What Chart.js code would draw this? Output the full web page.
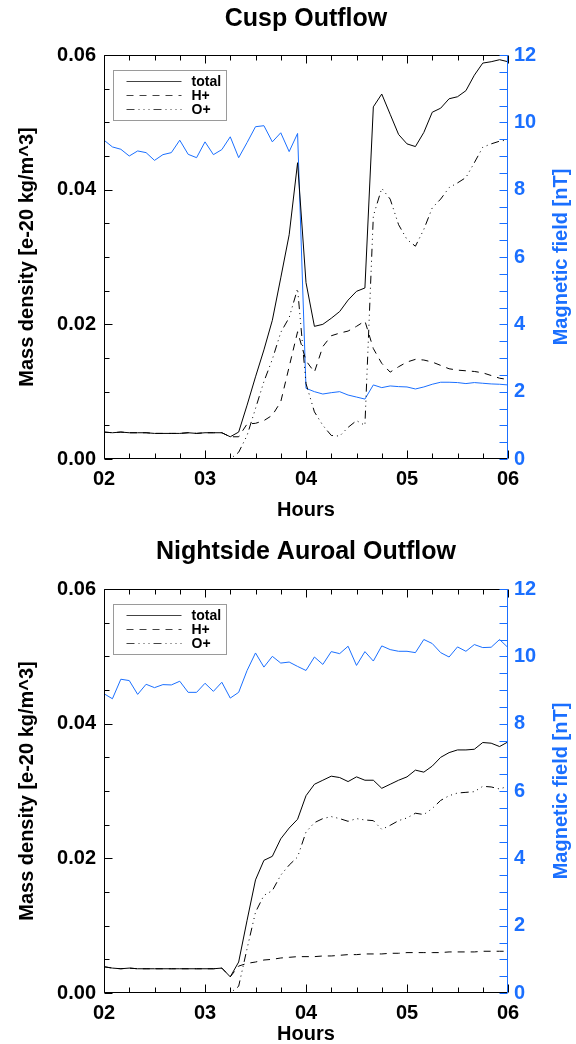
<!DOCTYPE html>
<html>
<head>
<meta charset="utf-8">
<script src="https://cdn.jsdelivr.net/npm/chart.js@4.4.1/dist/chart.umd.min.js"></script>
<style>
body { margin: 0; background: #fff; }
canvas { display: block; }
</style>
</head>
<body>
<canvas id="cusp" width="576" height="522"></canvas>
<canvas id="night" width="576" height="522"></canvas>
<script>
// time axis: minutes after 02:00, one sample every 5 minutes
const minutes = [0, 5, 10, 15, 20, 25, 30, 35, 40, 45, 50, 55,
    60, 65, 70, 75, 80, 85, 90, 95, 100, 105, 110, 115,
    120, 125, 130, 135, 140, 145, 150, 155, 160, 165, 170, 175,
    180, 185, 190, 195, 200, 205, 210, 215, 220, 225, 230, 235, 240];
const hourLabels = ["02", "03", "04", "05", "06"];

// Cusp outflow
const cuspTotal = [0.0040, 0.0039, 0.0040, 0.0039, 0.0039, 0.0039, 0.0038, 0.0038, 0.0038, 0.0038, 0.0039, 0.0038, 0.0039, 0.0039, 0.0039,
    0.0033, 0.0040, 0.0080, 0.0122, 0.0162, 0.0206, 0.0269, 0.0333, 0.0440, 0.0262,
    0.0197, 0.0200, 0.0209, 0.0219, 0.0236, 0.0249, 0.0254, 0.0523, 0.0542, 0.0512,
    0.0482, 0.0468, 0.0464, 0.0485, 0.0515, 0.0521, 0.0535, 0.0538, 0.0547, 0.0570,
    0.0588, 0.0590, 0.0593, 0.0590];
const cuspH = [0.0040, 0.0039, 0.0040, 0.0039, 0.0039, 0.0039, 0.0038, 0.0038, 0.0038, 0.0038, 0.0039, 0.0038, 0.0039, 0.0039, 0.0039,
    0.0033, 0.0033, 0.0052, 0.0053, 0.0057, 0.0065, 0.0085, 0.0137, 0.0189, 0.0146,
    0.0129, 0.0167, 0.0183, 0.0187, 0.0190, 0.0197, 0.0205, 0.0164, 0.0142, 0.0129,
    0.0137, 0.0144, 0.0148, 0.0147, 0.0144, 0.0139, 0.0134, 0.0132, 0.0131, 0.0130,
    0.0128, 0.0124, 0.0120, 0.0118];
const cuspO = [0, 0, 0, 0, 0, 0, 0, 0, 0, 0, 0, 0, 0, 0, 0,
    0.0000, 0.0010, 0.0035, 0.0075, 0.0115, 0.0148, 0.0188, 0.0210, 0.0253, 0.0112,
    0.0070, 0.0050, 0.0035, 0.0034, 0.0047, 0.0057, 0.0050, 0.0361, 0.0402, 0.0386,
    0.0348, 0.0326, 0.0316, 0.0341, 0.0373, 0.0386, 0.0403, 0.0410, 0.0418, 0.0440,
    0.0463, 0.0468, 0.0472, 0.0474];
const cuspB = [9.47, 9.27, 9.20, 9.00, 9.15, 9.10, 8.87, 9.04, 9.10, 9.47, 9.05, 8.95,
    9.42, 9.04, 9.19, 9.57, 8.95, 9.40, 9.87, 9.90, 9.42, 9.69, 9.13, 9.67,
    2.10, 2.00, 1.93, 1.97, 2.00, 1.90, 1.84, 1.78, 2.20, 2.12, 2.17, 2.15,
    2.14, 2.08, 2.14, 2.22, 2.28, 2.28, 2.27, 2.24, 2.27, 2.25, 2.23, 2.22, 2.20];

// Nightside auroral outflow
const nightTotal = [0.0039, 0.0037, 0.0036, 0.0037, 0.0036, 0.0036, 0.0036, 0.0036, 0.0036, 0.0036, 0.0036, 0.0036, 0.0036, 0.0036, 0.0037,
    0.0024, 0.0046, 0.0108, 0.0168, 0.0197, 0.0203, 0.0229, 0.0245, 0.0258, 0.0293,
    0.0310, 0.0316, 0.0322, 0.0320, 0.0314, 0.0321, 0.0316, 0.0316, 0.0304, 0.0310,
    0.0316, 0.0321, 0.0331, 0.0328, 0.0337, 0.0350, 0.0357, 0.0361, 0.0361, 0.0362,
    0.0372, 0.0371, 0.0366, 0.0373];
const nightH = [0.0039, 0.0037, 0.0036, 0.0037, 0.0036, 0.0036, 0.0036, 0.0036, 0.0036, 0.0036, 0.0036, 0.0036, 0.0036, 0.0036, 0.0037,
    0.0024, 0.0040, 0.0044, 0.0046, 0.0049, 0.0050, 0.0052, 0.0053, 0.0054, 0.0054,
    0.0054, 0.0055, 0.0055, 0.0056, 0.0057, 0.0057, 0.0058, 0.0058, 0.0058, 0.0059,
    0.0059, 0.0060, 0.0060, 0.0060, 0.0060, 0.0060, 0.0061, 0.0061, 0.0061, 0.0061,
    0.0062, 0.0062, 0.0062, 0.0062];
const nightO = [0, 0, 0, 0, 0, 0, 0, 0, 0, 0, 0, 0, 0, 0, 0,
    0.0000, 0.0010, 0.0066, 0.0120, 0.0145, 0.0152, 0.0175, 0.0190, 0.0202, 0.0239,
    0.0253, 0.0259, 0.0262, 0.0259, 0.0255, 0.0259, 0.0257, 0.0256, 0.0243, 0.0249,
    0.0256, 0.0260, 0.0267, 0.0265, 0.0274, 0.0286, 0.0293, 0.0297, 0.0298, 0.0299,
    0.0307, 0.0306, 0.0303, 0.0307];
const nightB = [8.89, 8.74, 9.32, 9.28, 8.87, 9.17, 9.07, 9.16, 9.15, 9.26,
    8.93, 8.93, 9.20, 8.96, 9.23, 8.76, 8.93, 9.58, 10.10, 9.68,
    10.00, 9.80, 9.83, 9.70, 9.58, 9.98, 9.76, 10.14, 10.08, 10.30,
    9.73, 10.14, 9.86, 10.31, 10.20, 10.15, 10.15, 10.11, 10.50, 10.38,
    10.11, 9.98, 10.28, 10.15, 10.35, 10.26, 10.27, 10.50, 10.26];

const black = "#000000";
const blue = "#1a6fff";
const FONT = "'Liberation Sans', Arial, Helvetica, sans-serif";
Chart.defaults.font.family = FONT;

// IDL style box: frame, inward ticks, legend and titles
const deco = {
    id: "deco",
    afterDatasetsDraw(chart, args, opts) {
        const ctx = chart.ctx;
        const a = chart.chartArea;
        const x = chart.scales.x, y = chart.scales.y, yB = chart.scales.yB;
        const L = Math.round(a.left) + 0.5, R = Math.round(a.right) - 0.5;
        const T = Math.round(a.top) + 0.5, B = Math.round(a.bottom) - 0.5;
        ctx.save();
        ctx.lineWidth = 1;
        ctx.setLineDash([]);

        ctx.strokeStyle = black;
        ctx.beginPath();
        ctx.moveTo(R, T); ctx.lineTo(L, T); ctx.lineTo(L, B); ctx.lineTo(R, B);
        for (let m = 0; m <= 240; m += 15) {
            const px = Math.round(x.getPixelForValue(m)) + 0.5;
            const len = m % 60 === 0 ? 8 : 5;
            ctx.moveTo(px, B); ctx.lineTo(px, B - len);
            ctx.moveTo(px, T); ctx.lineTo(px, T + len);
        }
        for (let i = 0; i <= 12; i++) {
            const py = Math.round(y.getPixelForValue(i * 0.005)) + 0.5;
            const len = i % 4 === 0 ? 8 : 5;
            ctx.moveTo(L, py); ctx.lineTo(L + len, py);
        }
        ctx.stroke();

        ctx.strokeStyle = blue;
        ctx.beginPath();
        ctx.moveTo(R, T - 0.5); ctx.lineTo(R, B + 0.5);
        for (let i = 0; i <= 24; i++) {
            const py = Math.round(yB.getPixelForValue(i * 0.5)) + 0.5;
            ctx.moveTo(R, py); ctx.lineTo(R - 8, py);
        }
        ctx.stroke();

        // legend
        const lx = L + 9, ly = T + 15;
        ctx.strokeStyle = "#9a9a9a";
        ctx.strokeRect(lx, ly, 113, 50);
        ctx.font = "bold 14px " + FONT;
        ctx.textBaseline = "middle";
        ctx.textAlign = "left";
        chart.data.datasets.filter(d => d.yAxisID === "y").forEach((d, i) => {
            const ry = Math.round(ly + 10 + i * 14) + 0.5;
            ctx.strokeStyle = "#444";
            ctx.setLineDash(d.borderDash || []);
            ctx.beginPath();
            ctx.moveTo(lx + 13, ry); ctx.lineTo(lx + 68, ry);
            ctx.stroke();
            ctx.fillStyle = black;
            ctx.fillText(d.label, lx + 78, ry + 1);
        });
        ctx.setLineDash([]);

        // chart title
        ctx.fillStyle = black;
        ctx.font = "bold 25px " + FONT;
        ctx.textAlign = "center";
        ctx.fillText(opts.title, (a.left + a.right) / 2, opts.titleY);

        // right axis title, reading bottom to top
        ctx.fillStyle = blue;
        ctx.font = "bold 20px " + FONT;
        ctx.translate(a.right + 53, (a.top + a.bottom) / 2);
        ctx.rotate(-Math.PI / 2);
        ctx.fillText("Magnetic field [nT]", 0, 0);
        ctx.restore();
    }
};

function makeChart(id, title, total, hPlus, oPlus, bField, lay) {
    const tickFont = { size: 20, weight: "bold" };
    return new Chart(document.getElementById(id), {
        type: "line",
        data: {
            labels: minutes,
            datasets: [
                { label: "total", data: total, borderColor: black, borderDash: [], yAxisID: "y" },
                { label: "H+", data: hPlus, borderColor: black, borderDash: [7, 6], yAxisID: "y" },
                { label: "O+", data: oPlus, borderColor: black, borderDash: [8, 4, 1, 4, 1, 4, 1, 4], yAxisID: "y" },
                { label: "Magnetic field", data: bField, borderColor: blue, yAxisID: "yB" }
            ]
        },
        options: {
            responsive: false,
            animation: false,
            layout: { padding: { top: lay.top, left: 0, right: 0, bottom: 0 } },
            elements: {
                line: { borderWidth: 1, tension: 0, fill: false },
                point: { radius: 0 }
            },
            scales: {
                x: {
                    type: "linear",
                    min: 0,
                    max: 240,
                    afterFit: s => { s.height = lay.xHeight; },
                    grid: { display: false, drawTicks: false },
                    border: { display: false },
                    ticks: {
                        stepSize: 60, autoSkip: false, maxRotation: 0, padding: 8,
                        color: black, font: tickFont,
                        callback: v => hourLabels[Math.round(v / 60)]
                    },
                    title: {
                        display: true, text: "Hours", color: black, font: tickFont,
                        padding: { top: 0, bottom: lay.hoursPad }
                    }
                },
                y: {
                    position: "left",
                    min: 0,
                    max: 0.06,
                    afterFit: s => { s.width = 104; },
                    grid: { display: false, drawTicks: false },
                    border: { display: false },
                    ticks: {
                        stepSize: 0.02, padding: 8, color: black, font: tickFont,
                        callback: v => v.toFixed(2)
                    },
                    title: {
                        display: true, text: "Mass density [e-20 kg/m^3]", color: black, font: tickFont,
                        padding: { top: 15, bottom: 0 }
                    }
                },
                yB: {
                    position: "right",
                    min: 0,
                    max: 12,
                    afterFit: s => { s.width = 68; },
                    grid: { display: false, drawTicks: false },
                    border: { display: false },
                    ticks: {
                        stepSize: 2, padding: 6, color: blue, font: tickFont,
                        callback: v => String(v)
                    }
                }
            },
            plugins: {
                legend: { display: false },
                tooltip: { enabled: false },
                deco: { title: title, titleY: lay.titleY }
            }
        },
        plugins: [deco]
    });
}

makeChart("cusp", "Cusp Outflow", cuspTotal, cuspH, cuspO, cuspB,
    { top: 55, xHeight: 63, hoursPad: 0, titleY: 19 });
makeChart("night", "Nightside Auroal Outflow", nightTotal, nightH, nightO, nightB,
    { top: 67, xHeight: 51, hoursPad: -2, titleY: 30 });
</script>
</body>
</html>
